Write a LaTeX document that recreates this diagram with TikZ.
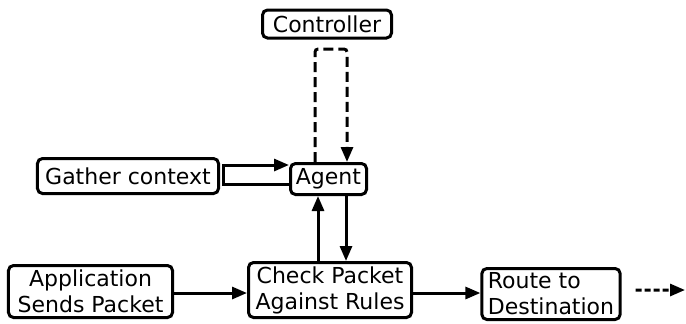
\documentclass[tikz,border=0pt]{standalone}
\usepackage{fontspec}
\setmainfont{DejaVu Sans}
\usetikzlibrary{arrows.meta,calc}

\begin{document}
\begin{tikzpicture}[x=1bp,y=-1bp,
  box/.style={draw, line width=3bp, rounded corners=5bp, inner sep=0pt,
    font=\fontsize{22bp}{26bp}\selectfont},
  conn/.style={line width=3bp, -{Triangle[length=15bp,width=12bp]}},
  dconn/.style={conn, dash pattern=on 10bp off 5bp}]
\useasboundingbox (0,0) rectangle (686,323);

% boxes
\node[box, minimum width=129bp, minimum height=28bp] (ctrl) at (327,24) {Controller};
\node[box, minimum width=76bp, minimum height=31bp] (agent) at (328.5,179) {Agent};
\node[box, minimum width=181bp, minimum height=35bp] (gather) at (128,176) {Gather context};
\node[box, align=center, minimum width=164bp, minimum height=52bp] (app) at (90.5,291.5) {Application\\Sends Packet};
\node[box, align=center, minimum width=163bp, minimum height=55bp] (check) at (330,290) {Check Packet\\Against Rules};
\node[box, align=left, inner xsep=6bp, minimum width=137bp, minimum height=51bp] (route) at (551,294) {Route to\\Destination};
\coordinate (out) at (685,290);

% controller loop above the agent
\draw[dconn, rounded corners=3bp] ([xshift=-13.5bp]agent.north) -- ++(0,-113) -- ++(32,0) -- ([xshift=18.5bp]agent.north);

% context loop beside the agent
\draw[conn] ([yshift=-5bp]agent.west) -| ([xshift=3.5bp]gather.east) |- ([yshift=14bp]agent.west);

% agent <-> rule check
\draw[conn] ([xshift=-12bp]check.north) -- ([xshift=-12bp]check.north |- agent.south);
\draw[conn] ([xshift=17.5bp]agent.south) -- ([xshift=17.5bp]agent.south |- check.north);

% packet flow
\draw[conn] ([yshift=-1.5bp]app.east) -- ([yshift=-1.5bp]app.east -| check.west);
\draw[conn] ([yshift=-3bp]check.east) -- ([yshift=-3bp]check.east -| route.west);
\draw[dconn, dash pattern=on 6bp off 3bp] ([xshift=14bp,yshift=4bp]route.east) -- (out);
\end{tikzpicture}
\end{document}
